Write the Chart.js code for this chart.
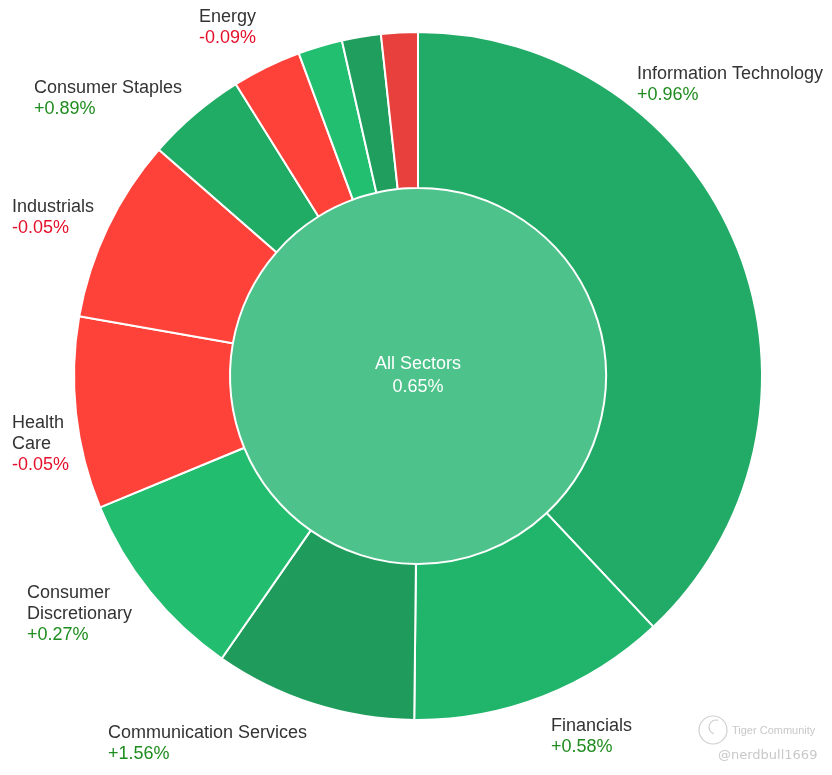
<!DOCTYPE html>
<html>
<head>
<meta charset="utf-8">
<script src="https://cdn.jsdelivr.net/npm/chart.js@4.4.1/dist/chart.umd.min.js"></script>
<style>
  html, body { margin: 0; padding: 0; background: #fff; }
  #wrap { position: relative; width: 832px; height: 775px; }
</style>
</head>
<body>
<div id="wrap"><canvas id="sector-chart" width="832" height="775"></canvas></div>
<script>
// sector weights (share of ring, %), clockwise from 12 o'clock
const sectors = ['Information Technology', 'Financials', 'Communication Services', 'Consumer Discretionary',
  'Health Care', 'Industrials', 'Consumer Staples', 'Energy', 'Materials', 'Real Estate', 'Utilities'];
const weights = [38.0, 12.17, 9.49, 9.10, 9.01, 8.65, 4.69, 3.25, 2.08, 1.83, 1.72];
// daily change, % (null = not labelled in the picture)
const changes = [0.96, 0.58, 1.56, 0.27, -0.05, -0.05, 0.89, -0.09, null, null, null];
const sectorColors = ['#21ab67', '#21b46b', '#1f9c5b', '#22bd6f', '#fe4139', '#fe4139', '#21ac66',
  '#fe4139', '#22bf70', '#1f9e5d', '#e8403d'];

const totalLabel = 'All Sectors';
const totalChange = 0.65;

// where each label block sits (middle of first line) and how wide it may run before wrapping
const labelBoxes = [
  { x: 637, y: 74, w: 200 },
  { x: 551, y: 726, w: 200 },
  { x: 108, y: 733, w: 240 },
  { x: 27, y: 593, w: 130 },
  { x: 12, y: 423, w: 80 },
  { x: 12, y: 207, w: 200 },
  { x: 34, y: 88, w: 200 },
  { x: 199, y: 17, w: 200 }
];

const LINE_H = 21;
const FONT = '18px "Liberation Sans", Arial, sans-serif';

function fmtChange(v) {
  return (v > 0 ? '+' : '') + v.toFixed(2) + '%';
}

function wrapWords(ctx, text, maxW) {
  const words = text.split(' ');
  const lines = [];
  let cur = '';
  words.forEach(w => {
    const test = cur ? cur + ' ' + w : w;
    if (cur && ctx.measureText(test).width > maxW) {
      lines.push(cur);
      cur = w;
    } else {
      cur = test;
    }
  });
  if (cur) lines.push(cur);
  return lines;
}

/**
 * sector names + changes around the ring, and the total in the middle
 */
const sectorLabels = {
  id: 'sectorLabels',
  afterDraw(chart) {
    const ctx = chart.ctx;
    ctx.save();
    ctx.font = FONT;
    ctx.textAlign = 'left';
    ctx.textBaseline = 'middle';

    changes.forEach((chg, i) => {
      if (chg === null || !labelBoxes[i]) return;
      const box = labelBoxes[i];
      const lines = wrapWords(ctx, sectors[i], box.w);
      let y = box.y;
      ctx.fillStyle = '#333333';
      lines.forEach(line => {
        ctx.fillText(line, box.x, y);
        y += LINE_H;
      });
      ctx.fillStyle = chg >= 0 ? '#1e8c1e' : '#e5102b';
      ctx.fillText(fmtChange(chg), box.x, y);
    });

    // centre text
    const core = chart.getDatasetMeta(1).data[0];
    ctx.textAlign = 'center';
    ctx.fillStyle = '#ffffff';
    ctx.fillText(totalLabel, core.x, core.y - 12);
    ctx.fillText(totalChange.toFixed(2) + '%', core.x, core.y + 11);

    // watermark
    ctx.strokeStyle = '#d0d0d0';
    ctx.lineWidth = 1.2;
    ctx.beginPath();
    ctx.arc(713, 730, 14, 0, Math.PI * 2);
    ctx.stroke();
    ctx.beginPath();
    ctx.arc(716, 727, 7, Math.PI * 0.6, Math.PI * 1.6);
    ctx.stroke();
    ctx.fillStyle = '#c8c8c8';
    ctx.textAlign = 'left';
    ctx.font = '11px "Liberation Sans", Arial, sans-serif';
    ctx.fillText('Tiger Community', 732, 731);
    ctx.font = '13px "DejaVu Sans", sans-serif';
    ctx.fillText('@nerdbull1669', 718, 756);
    ctx.restore();
  }
};

const ctx = document.getElementById('sector-chart').getContext('2d');
new Chart(ctx, {
  type: 'doughnut',
  data: {
    labels: sectors,
    datasets: [
      {
        label: 'Sectors',
        data: weights,
        backgroundColor: sectorColors,
        borderColor: '#ffffff',
        borderWidth: 2,
        weight: 156
      },
      {
        label: totalLabel,
        data: [1],
        backgroundColor: ['#4dc28a'],
        borderWidth: 0,
        weight: 188
      }
    ]
  },
  options: {
    responsive: false,
    animation: false,
    cutout: 0,
    layout: { padding: { left: 73, right: 69, top: 31, bottom: 54 } },
    plugins: {
      legend: { display: false },
      tooltip: { enabled: false }
    },
    events: []
  },
  plugins: [sectorLabels]
});
</script>
</body>
</html>
